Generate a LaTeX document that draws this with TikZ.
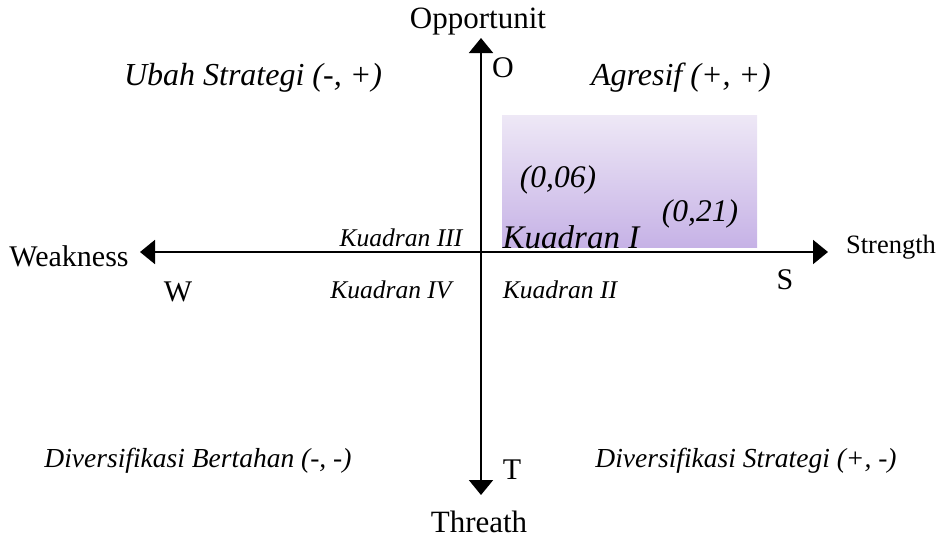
\documentclass[tikz,border=0pt]{standalone}
\usepackage{fontspec}
\setmainfont{Liberation Serif}
\usetikzlibrary{arrows.meta}
\definecolor{ungumuda}{RGB}{238,232,246}
\definecolor{ungutua}{RGB}{198,178,230}
\tikzset{
  sumbu/.style={line width=2pt,-{Triangle[width=24pt,length=15pt]}},
  arah/.style={font=\fontsize{31}{32}\selectfont},
  huruf/.style={font=\fontsize{30}{32}\selectfont},
  strategi/.style={font=\fontsize{32}{34}\selectfont\itshape},
  strategikecil/.style={font=\fontsize{27.5}{30}\selectfont\itshape},
  kuadran/.style={font=\fontsize{25.5}{28}\selectfont\itshape},
  nilai/.style={font=\fontsize{31.5}{33}\selectfont\itshape}
}
\begin{document}
\begin{tikzpicture}[x=1pt,y=-1pt]
\useasboundingbox (0,0) rectangle (937,539);
% kotak kuadran I
\node at (629.5,181) [rectangle,minimum width=255pt,minimum height=132pt,top color=ungumuda,bottom color=ungutua,inner sep=0pt] (kotak) {};

% sumbu
\coordinate (pusat) at (481,252);
\coordinate (atas) at (481,38);
\coordinate (bawah) at (481,495);
\coordinate (kiri) at (140,252);
\coordinate (kanan) at (828,252);
\draw[sumbu] (pusat) -- (atas);
\draw[sumbu] (pusat) -- (bawah);
\draw[sumbu] (pusat) -- (kiri);
\draw[sumbu] (pusat) -- (kanan);

% label arah
\node at (478,22) [arah] (opp) {Opportunit};
\node at (69,256) [font=\fontsize{30}{32}\selectfont] (weak) {Weakness};
\node at (891,247) [font=\fontsize{26.5}{28}\selectfont] (str) {Strength};
\node at (479,522) [arah] (thr) {Threath};
\node at (503,68) [huruf] (o) {O};
\node at (178,292) [huruf] (w) {W};
\node at (785,280) [huruf] (s) {S};
\node at (512,470) [huruf] (t) {T};

% strategi
\node at (253,78) [strategi] (ubah) {Ubah Strategi (-, +)};
\node at (681,78) [strategi] (agresif) {Agresif (+, +)};
\node at (198,461) [strategikecil] (bertahan) {Diversifikasi Bertahan (-, -)};
\node at (746,461) [strategikecil] (diversifikasi) {Diversifikasi Strategi (+, -)};

% kuadran
\node at (401,238) [kuadran] (k3) {Kuadran III};
\node at (391,290) [kuadran] (k4) {Kuadran IV};
\node at (560,290) [kuadran] (k2) {Kuadran II};
\node at (571,237) [font=\fontsize{33}{35}\selectfont\itshape] (k1) {Kuadran I};

% nilai
\node at (558,180) [nilai] (n1) {(0,06)};
\node at (700,214) [nilai] (n2) {(0,21)};
\end{tikzpicture}
\end{document}
